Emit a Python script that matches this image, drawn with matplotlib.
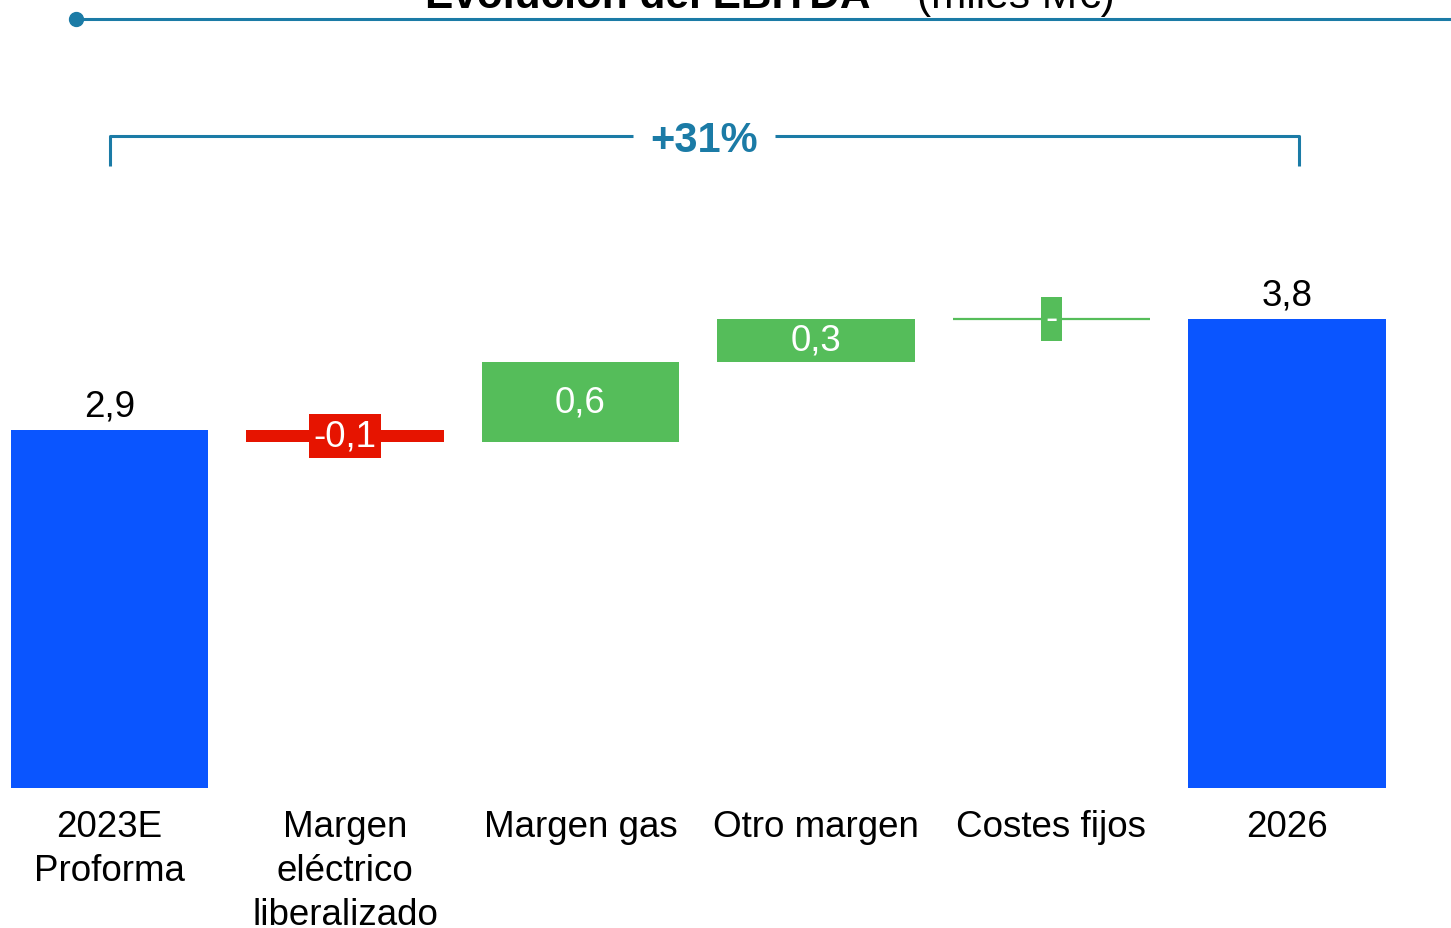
import matplotlib
matplotlib.use("Agg")
import matplotlib.pyplot as plt
from matplotlib.lines import Line2D
import numpy as np

plt.rcParams['font.family'] = ['Liberation Sans', 'DejaVu Sans']

# ---- data ----
categories = ["2023E\nProforma", "Margen\neléctrico\nliberalizado", "Margen gas",
              "Otro margen", "Costes fijos", "2026"]
start_value = 2.90
step_values = [-0.10, 0.65, 0.35, 0.00]
end_value = 3.80
value_labels = ["2,9", "-0,1", "0,6", "0,3", "-", "3,8"]
growth_label = "+31%"
title_bold = "Evolución del EBITDA"
title_sup = "(1)"
title_unit = "(miles M€)"

# ---- style ----
BLUE = "#0A55FF"
GREEN = "#55BD5A"
RED = "#E61400"
TEAL = "#1B7BA6"
W_PX, H_PX = 1451, 929

fig = plt.figure(figsize=(W_PX / 100, H_PX / 100), dpi=100)
ax = fig.add_axes([0, 0, 1, 1])
ax.axis("off")

px_x = 235.5
px_y = 123.5
x0_px = 109.5
base_px = 789
ax.set_xlim(-x0_px / px_x, (W_PX - x0_px) / px_x)
ax.set_ylim(-(H_PX - base_px) / px_y, base_px / px_y)

x = np.arange(len(categories))
width = 0.837
fs = 26.5

# start bar
ax.bar(x[0], start_value, width=width, color=BLUE, linewidth=0)
ax.text(x[0], start_value + 0.05, value_labels[0], ha="center", va="bottom",
        fontsize=fs, color="black")

running = start_value
for i, v in enumerate(step_values, start=1):
    lab = value_labels[i]
    if v == 0:
        ax.hlines(running, x[i] - width / 2, x[i] + width / 2, color=GREEN, lw=1.6)
        ax.text(x[i], running, lab, ha="center", va="center", fontsize=fs,
                color="white",
                bbox=dict(boxstyle="square,pad=0.12", fc=GREEN, ec="none"))
    elif v < 0:
        ax.bar(x[i], v, bottom=running, width=width, color=RED, linewidth=0)
        ax.text(x[i], running + v / 2, lab, ha="center", va="center", fontsize=fs,
                color="white",
                bbox=dict(boxstyle="square,pad=0.12", fc=RED, ec="none"))
    else:
        ax.bar(x[i], v, bottom=running, width=width, color=GREEN, linewidth=0)
        ax.text(x[i], running + v / 2, lab, ha="center", va="center", fontsize=fs,
                color="white")
    running += v

# end bar
ax.bar(x[-1], end_value, width=width, color=BLUE, linewidth=0)
ax.text(x[-1], end_value + 0.05, value_labels[-1], ha="center", va="bottom",
        fontsize=fs, color="black")

# category labels
for xi, c in zip(x, categories):
    ax.text(xi, -0.17, c, ha="center", va="top", fontsize=fs, color="black",
            linespacing=1.33)

# growth bracket
bx0, bx1 = x[0], x[-1] + 0.05
by_top, by_bot = 5.279, 5.036
mid = (bx0 + bx1) / 2
gap = 0.30
ax.plot([bx0, bx0, mid - gap], [by_bot, by_top, by_top], color=TEAL, lw=2.2,
        solid_joinstyle="round", solid_capstyle="butt")
ax.plot([mid + gap, bx1, bx1], [by_top, by_top, by_bot], color=TEAL, lw=2.2,
        solid_joinstyle="round", solid_capstyle="butt")
ax.text(mid, by_top - 0.03, growth_label, ha="center", va="center", fontsize=30,
        fontweight="bold", color=TEAL)

# title (partially cut at top, as in the source) and rule
ty = 1 - 8 / H_PX
fig.text(425 / W_PX, ty, title_bold, ha="left", va="baseline", fontsize=30.5,
         fontweight="bold", color="black")
fig.text(874 / W_PX, 1 + 10 / H_PX, title_sup, ha="left", va="baseline",
         fontsize=16, color="black")
fig.text(917 / W_PX, ty, title_unit, ha="left", va="baseline", fontsize=30.5,
         color="black")
ly = 1 - 20 / H_PX
fig.add_artist(Line2D([76 / W_PX, 1.0], [ly, ly], transform=fig.transFigure,
                      color=TEAL, lw=2.2))
fig.add_artist(Line2D([76 / W_PX], [ly], transform=fig.transFigure,
                      color=TEAL, marker="o", markersize=10, lw=0))

fig.savefig("out.png", dpi=100)
